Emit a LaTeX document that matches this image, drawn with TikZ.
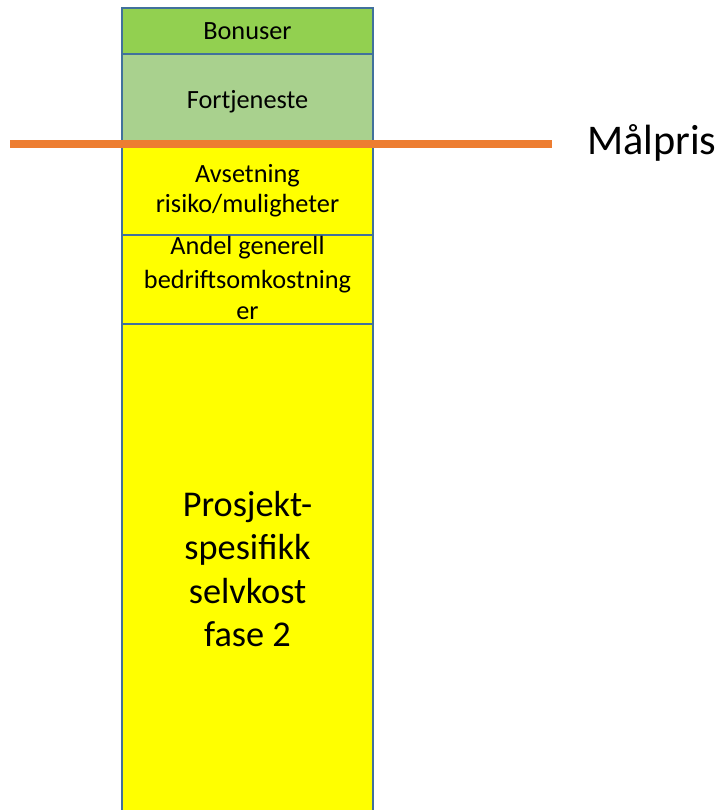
\documentclass[tikz,border=0pt]{standalone}
\usepackage{fontspec}
\setmainfont{Carlito}
\definecolor{bonus}{HTML}{92D050}
\definecolor{profit}{HTML}{A9D18E}
\definecolor{cost}{HTML}{FFFF00}
\definecolor{edge}{HTML}{41719C}
\definecolor{target}{HTML}{ED7D31}
\tikzset{
  box/.style={draw=edge, line width=1.9pt, inner sep=0pt, minimum width=251pt, anchor=north},
  small/.style={font=\fontsize{26.3}{30}\selectfont, anchor=base, inner sep=0pt},
  big/.style={font=\fontsize{36.3}{43}\selectfont, anchor=base, inner sep=0pt},
  huge/.style={font=\fontsize{42.3}{48}\selectfont, anchor=base west, inner sep=0pt},
  targetline/.style={draw=target, line width=8pt}
}
\begin{document}
\begin{tikzpicture}[x=1pt,y=-1pt]
\useasboundingbox (0,0) rectangle (722,810);
\clip (0,0) rectangle (722,810);
\node[box, fill=bonus,  minimum height=46pt] (bon) at (247.5,7) {};
\node[box, fill=profit, minimum height=93pt] (fort) at (247.5,53) {};
\node[box, fill=cost,   minimum height=88pt] (avs) at (247.5,146) {};
\node[box, fill=cost,   minimum height=89pt] (andel) at (247.5,234) {};
\node[box, fill=cost,   minimum height=500pt] (pro) at (247.5,323) {};
\node[small] (tb) at (247.5,40) {Bonuser};
\node[small] (tf) at (247.5,108.3) {Fortjeneste};
\node[small] (ta1) at (247.5,182.7) {Avsetning};
\node[small] (ta2) at (247.5,212.7) {risiko/muligheter};
\node[small] (tg1) at (247.5,254) {Andel generell};
\node[small] (tg2) at (247.5,288.3) {bedriftsomkostning};
\node[small] (tg3) at (247.5,319) {er};
\node[big] (tp1) at (247.5,516.7) {Prosjekt-};
\node[big] (tp2) at (247.5,559.3) {spesifikk};
\node[big] (tp3) at (247.5,603.3) {selvkost};
\node[big] (tp4) at (247.5,646.7) {fase 2};
\coordinate (l1) at (10,144);
\coordinate (l2) at (552,144);
\draw[targetline] (l1) -- (l2);
\node[huge] (mp) at (587,155) {Målpris};
\end{tikzpicture}
\end{document}
